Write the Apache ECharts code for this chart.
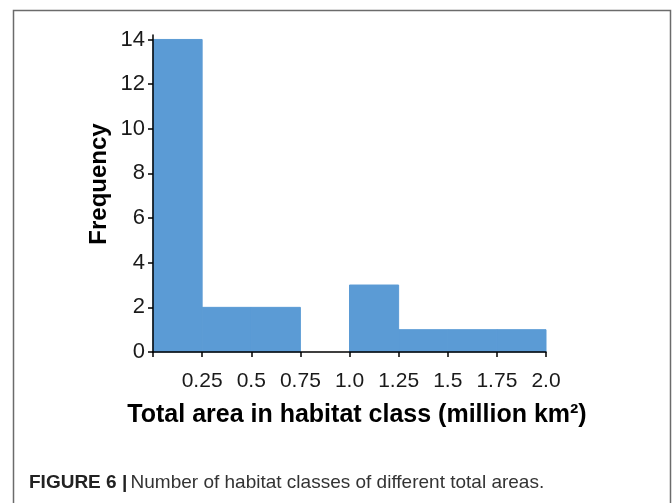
<!DOCTYPE html>
<html>
<head>
<meta charset="utf-8">
<script src="https://cdn.jsdelivr.net/npm/echarts@6/dist/echarts.min.js"></script>
<style>
html,body{margin:0;padding:0;background:#fff;}
#chart{width:672px;height:503px;}
</style>
</head>
<body>
<div id="chart"></div>
<script>
const binStarts = [0, 0.25, 0.5, 0.75, 1.0, 1.25, 1.5, 1.75];
const binEnds = [0.25, 0.5, 0.75, 1.0, 1.25, 1.5, 1.75, 2.0];
const frequencies = [14, 2, 2, 0, 3, 1, 1, 1];
const xTickValues = [0.25, 0.5, 0.75, 1.0, 1.25, 1.5, 1.75, 2.0];
const xTickLabels = ['0.25', '0.5', '0.75', '1.0', '1.25', '1.5', '1.75', '2.0'];
const yTickValues = [0, 2, 4, 6, 8, 10, 12, 14];

const chart = echarts.init(document.getElementById('chart'));
const data = binStarts.map((s, i) => [s, binEnds[i], frequencies[i]]);
const font = '"Liberation Sans", Arial, sans-serif';

chart.setOption({
  animation: false,
  backgroundColor: '#fff',
  grid: { left: 153, right: 126, top: 35, bottom: 151 },
  xAxis: {
    type: 'value', min: 0, max: 2, z: 5,
    axisLine: { show: true, lineStyle: { color: '#000', width: 1.5 } },
    axisTick: { show: true, length: 5, lineStyle: { color: '#000', width: 1.5 }, customValues: [0].concat(xTickValues) },
    axisLabel: {
      customValues: xTickValues,
      margin: 19,
      color: '#1a1a1a', fontSize: 21, fontFamily: font,
      formatter: v => { const i = xTickValues.findIndex(t => Math.abs(t - v) < 1e-9); return i >= 0 ? xTickLabels[i] : ''; }
    },
    splitLine: { show: false }
  },
  yAxis: {
    type: 'value', min: 0, max: 14.2, z: 5,
    axisLine: { show: true, lineStyle: { color: '#000', width: 1.5 } },
    axisTick: { show: true, length: 5, lineStyle: { color: '#000', width: 1.5 }, customValues: yTickValues },
    axisLabel: { customValues: yTickValues, margin: 8, color: '#1a1a1a', fontSize: 22, fontFamily: font },
    splitLine: { show: false }
  },
  series: [{
    type: 'custom',
    data: data,
    z: 1,
    encode: { x: [0, 1], y: 2 },
    renderItem: function (params, api) {
      const p0 = api.coord([api.value(0), 0]);
      const p1 = api.coord([api.value(1), api.value(2)]);
      const h = p0[1] - p1[1];
      if (h <= 0) return null;
      return {
        type: 'rect',
        shape: { x: p0[0], y: p1[1], width: p1[0] - p0[0], height: h },
        style: { fill: '#5B9BD5', stroke: '#5B9BD5', lineWidth: 1 }
      };
    }
  }],
  graphic: [
    { type: 'polyline', shape: { points: [[13.5, 503], [13.5, 10.5], [670.5, 10.5], [670.5, 503]] },
      style: { stroke: '#6b6b6b', lineWidth: 1.5, fill: null }, z: 10 },
    { type: 'text', x: 99, y: 184, rotation: Math.PI / 2,
      style: { text: 'Frequency', font: 'bold 24px ' + font, fill: '#000', align: 'center', verticalAlign: 'middle' } },
    { type: 'text', x: 357, y: 415,
      style: { text: 'Total area in habitat class (million km²)', font: 'bold 25px ' + font, fill: '#000', align: 'center', verticalAlign: 'middle' } },
    { type: 'text', x: 29, y: 483,
      style: {
        text: '{b|FIGURE 6 |} {n|Number of habitat classes of different total areas.}',
        verticalAlign: 'middle',
        rich: {
          b: { font: 'bold 19px ' + font, fill: '#222' },
          n: { font: '19px ' + font, fill: '#333' }
        }
      } }
  ]
});
</script>
</body>
</html>
